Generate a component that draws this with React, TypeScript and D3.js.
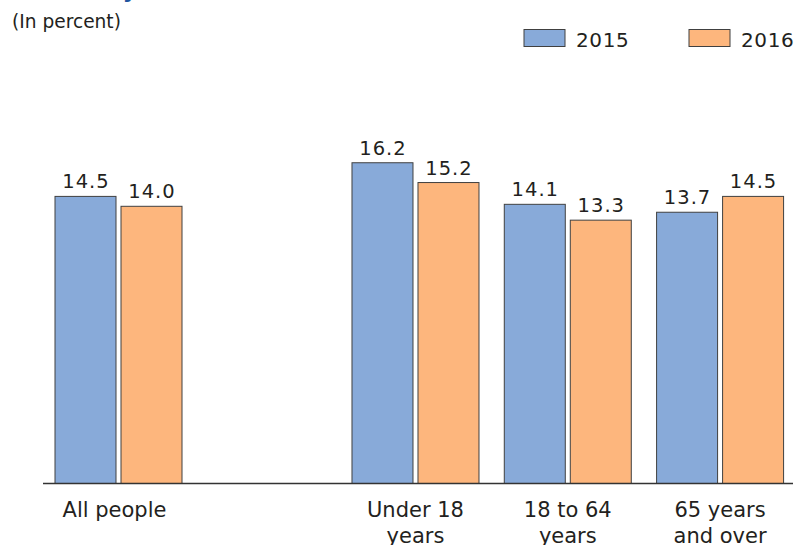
import React from "react";
import * as d3 from "d3";

const categories = ["All people", "Under 18 years", "18 to 64 years", "65 years and over"];
const categoryLines = [["All people"], ["Under 18", "years"], ["18 to 64", "years"], ["65 years", "and over"]];
const years = ["2015", "2016"];
const values2015 = [14.5, 16.2, 14.1, 13.7];
const values2016 = [14.0, 15.2, 13.3, 14.5];
const valueLabels2015 = ["14.5", "16.2", "14.1", "13.7"];
const valueLabels2016 = ["14.0", "15.2", "13.3", "14.5"];

const W = 801;
const H = 545;
const FONT = "'DejaVu Sans', sans-serif";
const COLORS: Record<string, string> = { "2015": "#88aad9", "2016": "#fdb67d" };
const STROKE = "#404040";

export default function App() {
  const baseline = 483.5;
  const step = 152.3;
  const groupWidth = 127;
  const extraGap = 0.95; // blank space after first group, in steps
  const pos = (i: number) => i + (i > 0 ? extraGap : 0);
  const x = d3.scaleLinear().domain([0, 1]).range([55, 55 + step]);
  const inner = d3.scaleBand<string>().domain(years).range([0, groupWidth]).paddingInner(5 / 66);
  const y = d3.scaleLinear().domain([0, 20]).range([baseline, baseline - 396]);

  const series = [
    { year: "2015", values: values2015, labels: valueLabels2015 },
    { year: "2016", values: values2016, labels: valueLabels2016 },
  ];

  return (
    <svg width={W} height={H} style={{ position: "absolute", left: 0, top: 0 }} fontFamily={FONT}>
      <rect x={0} y={0} width={W} height={H} fill="#ffffff" />
      <text x={137} y={-2.5} textAnchor="end" fontWeight="bold" fontSize={22} fill="#1f56a0">Poverty</text>
      <text x={12} y={28} fontSize={18.6} fill="#231f20">(In percent)</text>

      {/* legend */}
      {years.map((yr, i) => {
        const lx = i === 0 ? 524 : 689;
        return (
          <g key={yr}>
            <rect x={lx} y={29.5} width={41} height={17} fill={COLORS[yr]} stroke={STROKE} strokeWidth={1} />
            <text x={lx + 52} y={47} fontSize={20} fill="#231f20" letterSpacing={0.6}>{yr}</text>
          </g>
        );
      })}

      {/* bars */}
      {categories.map((c, i) => {
        const gx = x(pos(i));
        return (
          <g key={c}>
            {series.map((s) => {
              const bx = gx + (inner(s.year) as number);
              const bw = inner.bandwidth();
              const top = y(s.values[i]);
              return (
                <g key={s.year}>
                  <rect x={bx} y={top} width={bw} height={baseline - top} fill={COLORS[s.year]} stroke={STROKE} strokeWidth={1} />
                  <text x={bx + bw / 2 + 0.5} y={top - 8} textAnchor="middle" fontSize={19.5} letterSpacing={1} fill="#231f20">
                    {s.labels[i]}
                  </text>
                </g>
              );
            })}
            {categoryLines[i].map((line, li) => (
              <text key={li} x={gx + groupWidth / 2 - (i === 0 ? 4 : 0)} y={517 + li * 26} textAnchor="middle" fontSize={21} fill="#231f20">
                {line}
              </text>
            ))}
          </g>
        );
      })}

      <line x1={43} x2={793} y1={baseline} y2={baseline} stroke="#333333" strokeWidth={1.5} />
    </svg>
  );
}
